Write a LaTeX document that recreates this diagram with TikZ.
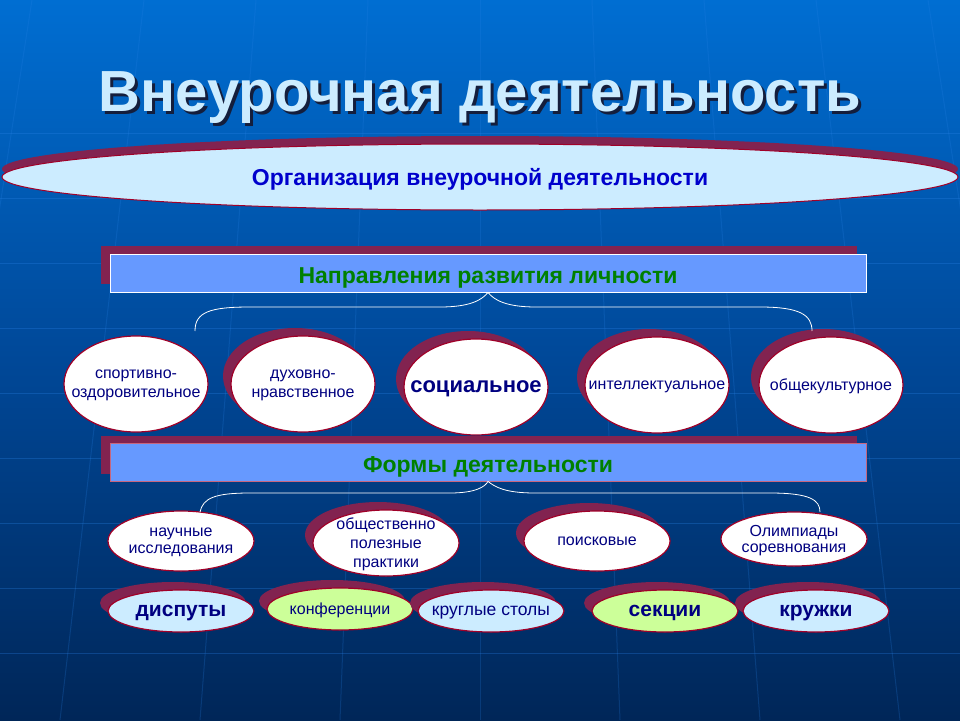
\documentclass[tikz,border=0pt]{standalone}
\usepackage{fontspec}
\setmainfont{Liberation Sans}
\usetikzlibrary{shapes.geometric,shadows}

\definecolor{bgtop}{RGB}{0,110,210}
\definecolor{bgmid}{RGB}{0,72,152}
\definecolor{bgbot}{RGB}{0,38,88}
\definecolor{gridline}{RGB}{40,130,230}
\definecolor{rim}{RGB}{130,35,80}
\definecolor{edge}{RGB}{160,0,40}
\definecolor{paleblue}{RGB}{204,236,255}
\definecolor{barblue}{RGB}{102,153,255}
\definecolor{bargreen}{RGB}{0,128,0}
\definecolor{navytext}{RGB}{0,0,128}
\definecolor{orgblue}{RGB}{0,0,204}
\definecolor{palegreen}{RGB}{204,255,153}
\definecolor{titleshade}{RGB}{20,30,60}

\begin{document}
\begin{tikzpicture}[x=1pt, y=-1pt, thick,
    rimshadow/.style={drop shadow={shadow xshift=-8pt, shadow yshift=8pt,
                      fill=rim, opacity=1}},
    oval/.style={ellipse, draw=edge, line width=1.2pt, fill=white,
                 inner xsep=-20pt, inner ysep=-8pt, text depth=0pt,
                 text=navytext, align=center, font=\fontsize{16}{19}\selectfont},
    dir node/.style={oval, minimum width=144pt, minimum height=96pt},
    form node/.style={oval, minimum width=146pt, minimum height=60pt},
    tag node/.style={oval, rimshadow, fill=paleblue, minimum width=146pt, minimum height=42pt},
    big text/.style={font=\fontsize{21}{24}\selectfont\bfseries},
    bar node/.style={rectangle, fill=barblue, minimum width=756pt, minimum height=38pt,
                     text height=20pt, text depth=0pt,
                     text=bargreen, font=\fontsize{23}{26}\selectfont\bfseries},
    brace/.style={white, line width=0.8pt}]

  % background
  \useasboundingbox (0,0) rectangle (960,720);
  \shade[top color=bgtop, bottom color=bgbot, middle color=bgmid] (0,0) rectangle (960,720);
  \foreach \y in {133,198,263,328,393,458,523,588,653}
    \draw[gridline, opacity=0.3, line width=1pt] (0,\y) -- (960,\y);
  \foreach \x in {-560,-420,-280,-140,0,140,280,420,560,700}
    \draw[gridline, opacity=0.22, line width=1pt] (480+0.8*\x,0) -- (480+\x,720);

  % title
  \node[text=paleblue, font=\fontsize{58}{62}\selectfont\bfseries] (title) at (480,99)
    {\rlap{\hspace{3pt}\raisebox{-3pt}{\color{titleshade}Внеурочная деятельность}}Внеурочная деятельность};

  \node[ellipse, fill=paleblue, draw=edge, line width=1pt, inner sep=0pt, text depth=0pt,
        drop shadow={shadow xshift=0pt, shadow yshift=8pt, fill=rim, opacity=1},
        minimum width=956pt, minimum height=66pt, text=orgblue,
        font=\fontsize{23}{26}\selectfont\bfseries] (org) at (480,177)
        {Организация внеурочной деятельности};

  % directions
  \node[bar node, draw=white, line width=0.8pt,
        drop shadow={shadow xshift=-9pt, shadow yshift=8pt, fill=rim, opacity=1}]
        (dirs) at (488,273) {Направления развития личности};

  \node[dir node] (sport) at (136,384) {спортивно-\\оздоровительное};
  \node[dir node, rimshadow] (moral) at (303,384) {духовно-\\нравственное};
  \node[dir node, rimshadow, font=\fontsize{22}{24}\selectfont\bfseries] (social) at (476,387) {социальное};
  \node[dir node, rimshadow] (intel) at (657,385) {интеллектуальное};
  \node[dir node, rimshadow] (culture) at (831,385) {общекультурное};

  \coordinate (d1) at (195,331);
  \coordinate (d2) at (812,331);
  \draw[brace] (d1) .. controls (195,312) and (210,307) .. (250,307) -- (440,307)
    .. controls (470,307) and (482,300) .. (dirs.south);
  \draw[brace] (dirs.south) .. controls (494,300) and (506,307) .. (536,307) -- (760,307)
    .. controls (800,307) and (812,315) .. (d2);

  % forms
  \node[bar node, draw=edge!60!white, line width=0.8pt,
        drop shadow={shadow xshift=-9pt, shadow yshift=7pt, fill=rim, opacity=1}]
        (forms) at (488,462) {Формы деятельности};

  \node[form node, font=\fontsize{16}{17}\selectfont] (science) at (181,541) {научные\\исследования};
  \node[form node, rimshadow, minimum height=66pt] (useful) at (386,543)
        {общественно\\полезные\\практики};
  \node[form node, rimshadow] (search) at (597,541) {поисковые};
  \node[form node, minimum height=54pt, font=\fontsize{16}{16}\selectfont] (olymp) at (794,539)
        {Олимпиады\\соревнования};

  \coordinate (f1) at (200,512);
  \coordinate (f2) at (820,512);
  \draw[brace] (f1) .. controls (203,498) and (215,493) .. (250,493) -- (450,493)
    .. controls (475,493) and (485,487) .. (forms.south);
  \draw[brace] (forms.south) .. controls (495,487) and (505,493) .. (535,493) -- (770,493)
    .. controls (810,493) and (820,500) .. (f2);

  % tags
  \node[tag node, big text] (debate) at (181,611) {диспуты};
  \node[tag node, fill=palegreen] (conf) at (340,609) {конференции};
  \node[tag node, font=\fontsize{17.5}{20}\selectfont] (round) at (491,611) {круглые столы};
  \node[tag node, fill=palegreen, big text] (sect) at (665,611) {секции};
  \node[tag node, big text] (circle) at (816,611) {кружки};

\end{tikzpicture}
\end{document}
